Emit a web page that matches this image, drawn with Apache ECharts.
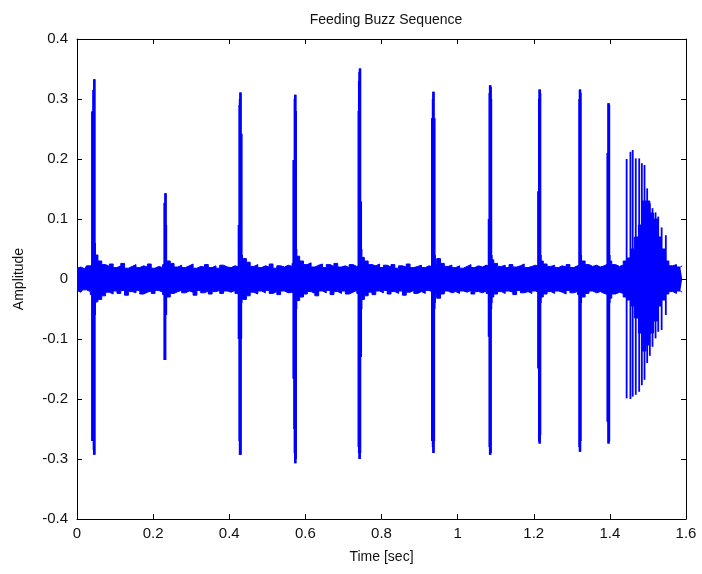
<!DOCTYPE html>
<html><head><meta charset="utf-8">
<script src="https://cdn.jsdelivr.net/npm/echarts@6/dist/echarts.min.js"></script>
<style>html,body{margin:0;padding:0;background:#fff}#c{width:702px;height:574px}</style>
</head><body><div id="c"></div>
<script>
// ---- axis ticks ----
const xTickValues = [0, 0.2, 0.4, 0.6, 0.8, 1, 1.2, 1.4, 1.6];
const yTickValues = [-0.4, -0.3, -0.2, -0.1, 0, 0.1, 0.2, 0.3, 0.4];

// ---- background noise envelope (sampled every 0.01 s from t = 0) ----
const noiseStart = 0;
const noiseSpacing = 0.01;
const noiseHi = [
  0.018,0.020,0.017,0.022,0.024,0.040,0.030,0.024,0.021,0.025,
  0.019,0.022,0.026,0.018,0.021,0.024,0.019,0.022,0.020,0.025,
  0.018,0.021,0.019,0.024,0.030,0.026,0.020,0.023,0.019,0.022,
  0.025,0.018,0.021,0.020,0.024,0.019,0.022,0.018,0.023,0.020,
  0.019,0.022,0.020,0.026,0.034,0.028,0.021,0.024,0.019,0.022,
  0.020,0.025,0.018,0.022,0.020,0.023,0.021,0.026,0.038,0.030,
  0.024,0.027,0.020,0.023,0.025,0.019,0.024,0.021,0.026,0.020,
  0.022,0.019,0.024,0.021,0.023,0.036,0.030,0.024,0.022,0.025,
  0.019,0.023,0.020,0.024,0.018,0.022,0.020,0.025,0.019,0.021,
  0.023,0.019,0.022,0.020,0.024,0.034,0.026,0.021,0.023,0.019,
  0.022,0.018,0.021,0.024,0.019,0.022,0.020,0.023,0.021,0.032,
  0.026,0.021,0.023,0.019,0.024,0.020,0.022,0.025,0.019,0.021,
  0.023,0.020,0.030,0.025,0.021,0.023,0.019,0.022,0.020,0.024,
  0.019,0.022,0.024,0.030,0.024,0.021,0.023,0.020,0.022,0.025,
  0.030,0.024,0.021,0.023,0.030,0.035,0.050,0.070,0.090,0.130,
  0.130,0.110,0.100,0.070,0.050,0.030,0.022,0.024,0.020,0.022
];
const noiseLo = [
  -0.019,-0.022,-0.018,-0.021,-0.026,-0.038,-0.034,-0.028,-0.022,-0.025,
  -0.020,-0.024,-0.019,-0.027,-0.021,-0.023,-0.019,-0.025,-0.022,-0.020,
  -0.024,-0.019,-0.022,-0.026,-0.030,-0.024,-0.021,-0.019,-0.023,-0.020,
  -0.022,-0.027,-0.019,-0.023,-0.020,-0.025,-0.021,-0.019,-0.024,-0.020,
  -0.022,-0.019,-0.024,-0.021,-0.034,-0.028,-0.022,-0.025,-0.020,-0.023,
  -0.019,-0.024,-0.021,-0.026,-0.020,-0.023,-0.022,-0.025,-0.036,-0.030,
  -0.025,-0.021,-0.024,-0.028,-0.020,-0.023,-0.019,-0.026,-0.021,-0.024,
  -0.020,-0.025,-0.022,-0.019,-0.024,-0.034,-0.028,-0.022,-0.026,-0.020,
  -0.023,-0.019,-0.025,-0.021,-0.024,-0.020,-0.027,-0.022,-0.019,-0.024,
  -0.021,-0.024,-0.019,-0.022,-0.026,-0.032,-0.025,-0.020,-0.023,-0.021,
  -0.024,-0.020,-0.022,-0.019,-0.025,-0.021,-0.023,-0.020,-0.024,-0.030,
  -0.025,-0.021,-0.024,-0.020,-0.022,-0.026,-0.019,-0.023,-0.021,-0.024,
  -0.020,-0.023,-0.030,-0.025,-0.021,-0.024,-0.020,-0.022,-0.025,-0.019,
  -0.023,-0.021,-0.026,-0.030,-0.024,-0.020,-0.023,-0.021,-0.024,-0.026,
  -0.032,-0.025,-0.022,-0.024,-0.030,-0.035,-0.045,-0.065,-0.090,-0.120,
  -0.110,-0.090,-0.070,-0.045,-0.035,-0.025,-0.021,-0.024,-0.020,-0.022
];

// ---- echolocation clicks: start time and successive oscillation peaks ----
const clickStart = [0.040, 0.230, 0.425, 0.569, 0.740, 0.933, 1.082, 1.212, 1.320, 1.394];
const clickSpacing = 0.001;
const clickHi = [
  [0.279, 0.279, 0.279, 0.315, 0.315, 0.333, 0.333, 0.060, 0.040],
  [0.127, 0.127, 0.143, 0.143, 0.090, 0.030],
  [0.090, 0.090, 0.290, 0.300, 0.311, 0.311, 0.242, 0.242, 0.040],
  [0.198, 0.198, 0.198, 0.300, 0.307, 0.307, 0.280, 0.050, 0.030],
  [0.280, 0.330, 0.345, 0.351, 0.351, 0.129, 0.129, 0.050, 0.035],
  [0.268, 0.268, 0.300, 0.312, 0.312, 0.268, 0.268, 0.040, 0.030],
  [0.100, 0.100, 0.310, 0.323, 0.323, 0.320, 0.300, 0.040, 0.030],
  [0.146, 0.146, 0.300, 0.316, 0.316, 0.310, 0.040, 0.030],
  [0.300, 0.316, 0.316, 0.310, 0.040, 0.030],
  [0.210, 0.210, 0.293, 0.293, 0.290, 0.040, 0.030]
];
const clickLo = [
  [-0.270, -0.270, -0.270, -0.270, -0.285, -0.293, -0.293, -0.060, -0.040],
  [-0.135, -0.135, -0.135, -0.060, -0.060, -0.030],
  [-0.100, -0.100, -0.270, -0.293, -0.293, -0.293, -0.100, -0.040, -0.030],
  [-0.166, -0.166, -0.250, -0.290, -0.307, -0.307, -0.300, -0.050, -0.030],
  [-0.280, -0.290, -0.300, -0.300, -0.290, -0.130, -0.130, -0.050, -0.035],
  [-0.270, -0.270, -0.280, -0.290, -0.290, -0.270, -0.050, -0.040, -0.030],
  [-0.096, -0.096, -0.280, -0.293, -0.293, -0.290, -0.050, -0.040, -0.030],
  [-0.149, -0.149, -0.270, -0.274, -0.274, -0.260, -0.040, -0.030],
  [-0.280, -0.288, -0.288, -0.270, -0.040, -0.030],
  [-0.238, -0.238, -0.274, -0.274, -0.270, -0.040, -0.030]
];

// ---- terminal feeding buzz: individual pulses ----
const buzzTimes = [1.444, 1.454, 1.460, 1.468, 1.477, 1.484, 1.491, 1.498, 1.505, 1.512, 1.520, 1.527, 1.536, 1.547];
const buzzMax   = [0.200, 0.212, 0.215, 0.201, 0.201, 0.193, 0.190, 0.151, 0.126, 0.118, 0.111, 0.104, 0.086, 0.073];
const buzzMin   = [-0.199, -0.200, -0.196, -0.193, -0.188, -0.177, -0.168, -0.140, -0.128, -0.113, -0.099, -0.088, -0.085, -0.060];

// ---- build series data ----
const noiseUpper = noiseHi.map((v, i) => [noiseStart + i * noiseSpacing, v]);
const noiseLower = noiseLo.map((v, i) => [noiseStart + i * noiseSpacing, v]);
const strokes = [];
clickStart.forEach((t0, i) => {
  clickHi[i].forEach((hi, k) => strokes.push([t0 + k * clickSpacing, hi, clickLo[i][k]]));
});
const buzzStrokes = buzzTimes.map((t, k) => [t, buzzMax[k], buzzMin[k]]);

const BLUE = '#0000ff';
const FONT = 'Liberation Sans, Arial, sans-serif';

function strokeRenderer(width) {
  return function (params, api) {
    const p1 = api.coord([api.value(0), api.value(1)]);
    const p2 = api.coord([api.value(0), api.value(2)]);
    return { type: 'line', shape: { x1: p1[0], y1: p1[1], x2: p2[0], y2: p2[1] },
             style: { stroke: BLUE, lineWidth: width, lineCap: 'butt' } };
  };
}

const axisCommon = {
  axisLine: { show: true, onZero: false, lineStyle: { color: '#000', width: 1 } },
  axisTick: { show: true, inside: true, length: 5, lineStyle: { color: '#000' } },
  splitLine: { show: false }
};

const chart = echarts.init(document.getElementById('c'), null, { renderer: 'canvas' });
chart.setOption({
  animation: false,
  backgroundColor: '#fff',
  title: { text: 'Feeding Buzz Sequence', left: 381, top: 8, textAlign: 'center',
           textStyle: { fontFamily: FONT, fontSize: 14, fontWeight: 'normal', color: '#111' } },
  grid: { left: 77, right: 16, top: 39, bottom: 55 },
  xAxis: [
    Object.assign({ type: 'value', min: 0, max: 1.6, interval: 0.2, position: 'bottom',
      name: 'Time [sec]', nameLocation: 'middle', nameGap: 31,
      nameTextStyle: { fontFamily: FONT, fontSize: 14, color: '#111' },
      axisLabel: { color: '#111', fontFamily: FONT, fontSize: 15, margin: 7 } }, axisCommon),
    Object.assign({ type: 'value', min: 0, max: 1.6, interval: 0.2, position: 'top',
      axisLabel: { show: false } }, axisCommon)
  ],
  yAxis: [
    Object.assign({ type: 'value', min: -0.4, max: 0.4, interval: 0.1, position: 'left',
      name: 'Amplitude', nameLocation: 'middle', nameGap: 51,
      nameTextStyle: { fontFamily: FONT, fontSize: 14, color: '#111' },
      axisLabel: { color: '#111', fontFamily: FONT, fontSize: 15, margin: 9 } }, axisCommon),
    Object.assign({ type: 'value', min: -0.4, max: 0.4, interval: 0.1, position: 'right',
      axisLabel: { show: false } }, axisCommon)
  ],
  series: [
    { type: 'line', data: noiseUpper, symbol: 'none', step: 'middle', lineStyle: { color: BLUE, width: 1 },
      areaStyle: { color: BLUE, opacity: 1 }, z: 2 },
    { type: 'line', data: noiseLower, symbol: 'none', step: 'middle', lineStyle: { color: BLUE, width: 1 },
      areaStyle: { color: BLUE, opacity: 1 }, z: 2 },
    { type: 'custom', data: strokes, renderItem: strokeRenderer(2.2),
      encode: { x: 0, y: [1, 2] }, clip: true, z: 3 },
    { type: 'custom', data: buzzStrokes, renderItem: strokeRenderer(1.8),
      encode: { x: 0, y: [1, 2] }, clip: true, z: 3 }
  ]
});
</script>
</body></html>
